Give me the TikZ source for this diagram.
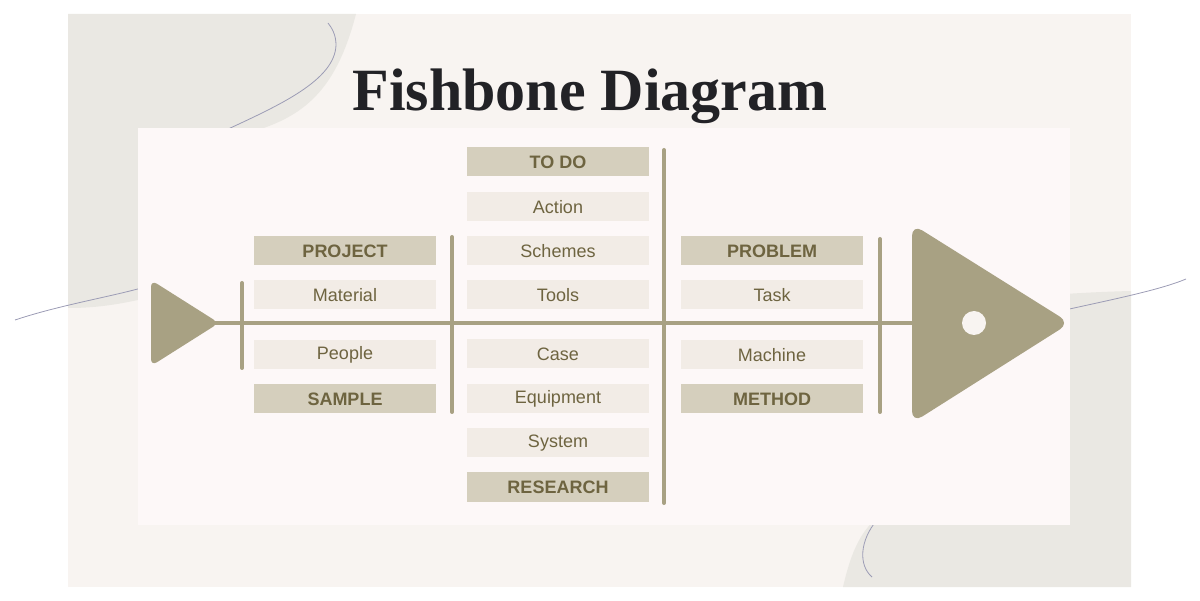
\documentclass[tikz,border=0pt]{standalone}
\usepackage{fontspec}
\setmainfont{Liberation Serif}
\setsansfont{Liberation Sans}
\definecolor{pagebg}{HTML}{F8F4F1}
\definecolor{blobcol}{HTML}{EAE8E3}
\definecolor{panelcol}{HTML}{FDF8F8}
\definecolor{wavecol}{HTML}{9C9CB5}
\definecolor{bonecol}{HTML}{A8A183}
\definecolor{headfill}{HTML}{D5CFBD}
\definecolor{itemfill}{HTML}{F2ECE6}
\definecolor{inkbrown}{HTML}{6E6440}
\definecolor{titlecol}{HTML}{222226}
\begin{document}
\begin{tikzpicture}[x=1pt,y=-1pt,
                    hbox/.style = {shape = rectangle,
                                   fill = headfill,
                                   text = inkbrown,
                                   inner sep = 0pt,
                                   minimum width = 182pt,
                                   minimum height = 29pt,
                                   font = \sffamily\bfseries\fontsize{18}{18}\selectfont},
                    ibox/.style = {hbox,
                                   fill = itemfill,
                                   font = \sffamily\fontsize{18}{18}\selectfont},
                    bone/.style = {draw = bonecol, line width = 4pt, line cap = round},
                    wave/.style = {draw = wavecol, line width = 0.8pt}]
		\useasboundingbox (0,0) rectangle (1200,601);
		% background
		\fill[pagebg] (68,14) rectangle (1131,587);
		\fill[blobcol] (68,14) -- (356,14) .. controls (335,95) and (300,120) .. (240,135)
		      -- (200,250) -- (138,300) .. controls (110,306) and (90,308) .. (68,308) -- cycle;
		\fill[blobcol] (1131,291) -- (1131,587) -- (843,587) .. controls (852,548) and (862,530) .. (880,515)
		      -- (1000,300) .. controls (1040,295) and (1090,292) .. (1131,291) -- cycle;
		\draw[wave] (15,320) .. controls (60,305) and (110,297) .. (145,287);
		\draw[wave] (226,130) .. controls (280,105) and (335,80) .. (336,45) .. controls (336,35) and (332,28) .. (328,23);
		\draw[wave] (1065,310) .. controls (1110,300) and (1160,290) .. (1186,279);
		\draw[wave] (877,520) .. controls (860,540) and (858,565) .. (872,577);
		\fill[panelcol] (138,128) rectangle (1070,525);
		% title
		\node[text = titlecol, font = \bfseries\fontsize{60}{60}\selectfont] (title) at (590,96) {Fishbone Diagram};
		% tail and head
		\fill[bonecol, rounded corners = 7pt] (151,280) -- (219,323) -- (151,366) -- cycle;
		\fill[bonecol, rounded corners = 12pt] (912,224) -- (1070,323) -- (912,423) -- cycle;
		\fill[pagebg] (974,323) circle (12);
		\coordinate (tail) at (212,323);
		\coordinate (head) at (914,323);
		\path[bone] (tail) edge (head);
		% bones
		\coordinate (b1t) at (242,283);
		\coordinate (b1b) at (242,368);
		\coordinate (b2t) at (452,237);
		\coordinate (b2b) at (452,412);
		\coordinate (b3t) at (664,150);
		\coordinate (b3b) at (664,503);
		\coordinate (b4t) at (880,239);
		\coordinate (b4b) at (880,412);
		\path[bone] (b1t) edge (b1b);
		\path[bone] (b2t) edge (b2b);
		\path[bone] (b3t) edge (b3b);
		\path[bone] (b4t) edge (b4b);
		% boxes
		\node[hbox] (project) at (345,251) {PROJECT};
		\node[ibox] (material) at (345,295) {Material};
		\node[ibox] (people) at (345,355) {People};
		\node[hbox] (sample) at (345,399) {SAMPLE};
		\node[hbox] (todo) at (558,162) {TO DO};
		\node[ibox] (action) at (558,207) {Action};
		\node[ibox] (schemes) at (558,251) {Schemes};
		\node[ibox] (tools) at (558,295) {Tools};
		\node[ibox] (case) at (558,354) {Case};
		\node[ibox] (equipment) at (558,399) {Equipment};
		\node[ibox] (system) at (558,443) {System};
		\node[hbox] (research) at (558,487) {RESEARCH};
		\node[hbox] (problem) at (772,251) {PROBLEM};
		\node[ibox] (task) at (772,295) {Task};
		\node[ibox] (machine) at (772,355) {Machine};
		\node[hbox] (method) at (772,399) {METHOD};
	\end{tikzpicture}
\end{document}
